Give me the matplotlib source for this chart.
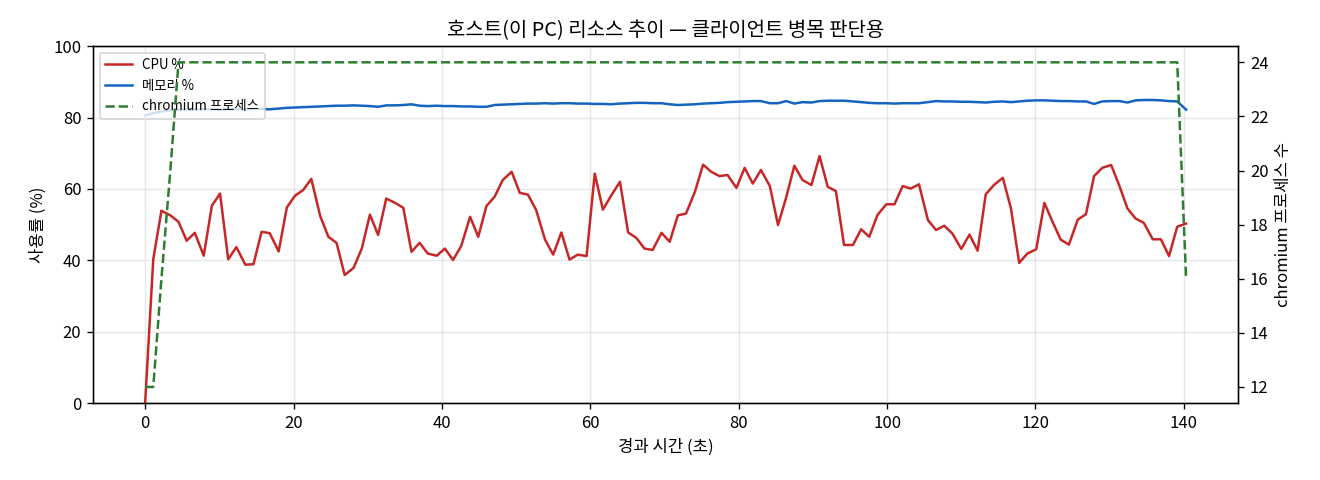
import matplotlib
matplotlib.use("Agg")
import matplotlib.pyplot as plt

plt.rcParams['font.family'] = ['Noto Sans CJK KR', 'DejaVu Sans']
plt.rcParams['axes.unicode_minus'] = False

# elapsed time (s) of each sample
elapsed = [0.0, 1.1, 2.2, 3.4, 4.5, 5.6, 6.7, 7.9, 9.0, 10.1, 11.2, 12.3, 13.5, 14.6, 15.7, 16.8,
           18.0, 19.1, 20.2, 21.3, 22.4, 23.6, 24.7, 25.8, 26.9, 28.1, 29.2, 30.3, 31.4, 32.5,
           33.7, 34.8, 35.9, 37.0, 38.1, 39.3, 40.4, 41.5, 42.6, 43.8, 44.9, 46.0, 47.1, 48.2,
           49.4, 50.5, 51.6, 52.7, 53.9, 55.0, 56.1, 57.2, 58.3, 59.5, 60.6, 61.7, 62.8, 64.0,
           65.1, 66.2, 67.3, 68.4, 69.6, 70.7, 71.8, 72.9, 74.1, 75.2, 76.3, 77.4, 78.5, 79.7,
           80.8, 81.9, 83.0, 84.2, 85.3, 86.4, 87.5, 88.6, 89.8, 90.9, 92.0, 93.1, 94.2, 95.4,
           96.5, 97.6, 98.7, 99.9, 101.0, 102.1, 103.2, 104.3, 105.5, 106.6, 107.7, 108.8, 110.0,
           111.1, 112.2, 113.3, 114.4, 115.6, 116.7, 117.8, 118.9, 120.1, 121.2, 122.3, 123.4,
           124.5, 125.7, 126.8, 127.9, 129.0, 130.2, 131.3, 132.4, 133.5, 134.6, 135.8, 136.9,
           138.0, 139.1, 140.3]

cpu = [0.0, 40.3, 53.9, 52.6, 50.8, 45.5, 47.7, 41.3, 55.3, 58.7, 40.3, 43.7, 38.8, 38.9, 48.0,
       47.6, 42.5, 54.8, 58.1, 59.7, 62.8,
       52.4, 46.6, 44.9, 35.9, 37.9, 43.3, 52.8, 47.1, 57.3, 56.1, 54.7, 42.4, 44.9, 41.9, 41.3,
       43.3, 40.1, 44.0, 52.2, 46.6, 55.2,
       57.8, 62.5, 64.8, 58.9, 58.4, 54.1, 45.8, 41.6, 47.8, 40.2, 41.6, 41.2, 64.3, 54.2, 58.1,
       62.0, 47.8, 46.3, 43.3, 42.9, 47.7,
       45.2, 52.6, 53.1, 59.2, 66.8, 64.8, 63.6, 63.9, 60.3, 65.9, 61.5, 65.3, 60.8, 49.9, 57.6,
       66.5, 62.5, 61.1, 69.2, 60.6, 59.4, 44.3, 44.3, 48.7, 46.6, 52.7,
       55.7, 55.7, 60.8, 60.1, 61.3, 51.3, 48.5, 49.7, 47.5, 43.2, 47.2, 42.7, 58.5, 61.1, 63.1,
       54.5, 39.3, 41.9, 43.1, 56.1, 50.8, 45.8, 44.4, 51.4, 52.9, 63.6, 65.9, 66.7, 60.9, 54.5,
       51.7, 50.5, 45.9, 45.9, 41.2, 49.4, 50.3]

mem = [80.6, 81.2, 81.7, 82.0, 82.1, 82.2, 82.2, 82.3, 82.3, 82.2, 82.3, 82.4, 82.3, 82.4, 82.4,
       82.3, 82.5, 82.7, 82.8, 82.9, 83.0, 83.1, 83.2, 83.3, 83.3, 83.4, 83.3, 83.2, 83.0, 83.4,
       83.4, 83.5, 83.7, 83.3, 83.2, 83.3, 83.2, 83.2, 83.1, 83.1, 83.0, 83.0, 83.5, 83.6, 83.7,
       83.8, 83.9, 83.9, 84.0, 83.9, 84.0, 84.0, 83.9, 83.9, 83.8, 83.8, 83.7, 83.9, 84.0, 84.1,
       84.1, 84.0, 84.0, 83.7, 83.5, 83.6, 83.7, 83.9, 84.0, 84.1, 84.3, 84.4, 84.5, 84.6, 84.6,
       84.0, 84.0, 84.6, 83.9, 84.3, 84.2, 84.6, 84.7, 84.7, 84.7, 84.5, 84.3, 84.1, 84.0, 84.0,
       83.9, 84.0, 84.0, 84.0, 84.3, 84.6, 84.5, 84.5, 84.4, 84.4, 84.3, 84.2, 84.4, 84.5, 84.3,
       84.5, 84.7, 84.8, 84.8, 84.7, 84.6, 84.6, 84.5, 84.5, 83.8, 84.5, 84.6, 84.6, 84.2, 84.8,
       84.9, 84.9, 84.8, 84.6, 84.5, 82.2]

procs = [12, 12, 16, 20] + [24] * 121 + [16]

fig, ax1 = plt.subplots(figsize=(11, 4), dpi=120)
ax2 = ax1.twinx()

ax1.plot(elapsed, cpu, color='#c62828', lw=1.5, label='CPU %')
ax1.plot(elapsed, mem, color='#1565c0', lw=1.5, label='메모리 %')
l3, = ax2.plot(elapsed, procs, color='#2e7d32', lw=1.5, ls='--', label='chromium 프로세스')

ax1.set_ylim(0, 100)
ax1.set_xlabel('경과 시간 (초)')
ax1.set_ylabel('사용률 (%)')
ax2.set_ylabel('chromium 프로세스 수')
ax1.grid(alpha=0.3)
ax1.set_title('호스트(이 PC) 리소스 추이 — 클라이언트 병목 판단용')

h1, lab1 = ax1.get_legend_handles_labels()
ax1.legend(h1 + [l3], lab1 + [l3.get_label()], loc='upper left', fontsize=8)

fig.subplots_adjust(left=0.0705, right=0.938, top=0.904, bottom=0.160)
fig.savefig('out.png')
